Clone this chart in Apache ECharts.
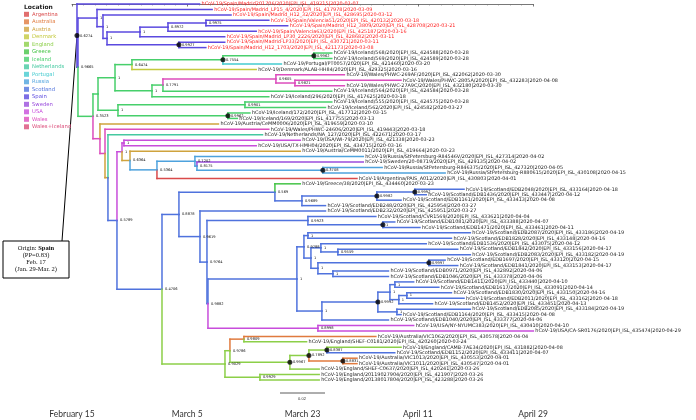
<!DOCTYPE html>
<html><head><meta charset="utf-8">
<script src="https://cdn.jsdelivr.net/npm/echarts@6/dist/echarts.min.js"></script>
<style>html,body{margin:0;padding:0;background:#fff}#c{width:696px;height:420px}</style>
</head><body><div id="c"></div><script>
const locations = ['Argentina','Australia','Austria','Denmark','England','Greece','Iceland','Netherlands','Portugal','Russia','Scotland','Spain','Sweden','USA','Wales','Wales+Iceland'];
const locColors = ['#d94a4a','#e07a3e','#cfa33d','#c4c93e','#8ccf48','#45c447','#47cf6b','#45c9a0','#45cbcf','#4ea2dd','#4f72dd','#5b4adf','#9a4ddc','#c84ddb','#dc4dbd','#db4c79'];
const tickLabels = ['February 15','March 5','March 23','April 11','April 29'];

const leafNames = [
'hCoV-19/Spain/Madrid201706/2020|EPI_ISL_419215|2020-03-07',
'hCoV-19/Spain/Madrid_LP15_4/2020|EPI_ISL_417978|2020-03-09',
'hCoV-19/Spain/Madrid_H12_32/2020|EPI_ISL_428695|2020-03-12',
'hCoV-19/Spain/Valencia51/2020|EPI_ISL_420132|2020-03-18',
'hCoV-19/Spain/Madrid_H12_3809/2020|EPI_ISL_428708|2020-03-21',
'hCoV-19/Spain/Valencia63/2020|EPI_ISL_425187|2020-03-16',
'hCoV-19/Spain/Madrid_LP30_2226/2020|EPI_ISL_428682|2020-03-11',
'hCoV-19/Spain/Madrid-LP33/2020|EPI_ISL_430721|2020-03-11',
'hCoV-19/Spain/Madrid_H12_1703/2020|EPI_ISL_421173|2020-03-08',
'hCoV-19/Iceland/568/2020|EPI_ISL_424588|2020-03-28',
'hCoV-19/Iceland/569/2020|EPI_ISL_424589|2020-03-28',
'hCoV-19/Portugal/PT0057/2020|EPI_ISL_421460|2020-03-20',
'hCoV-19/Denmark/ALAB-HH84/2020|EPI_ISL_429325|2020-03-16',
'hCoV-19/Wales/PHWC-269AF/2020|EPI_ISL_422062|2020-03-30',
'hCoV-19/Wales/PHWC-2805A/2020|EPI_ISL_432283|2020-04-08',
'hCoV-19/Wales/PHWC-27A9C/2020|EPI_ISL_432180|2020-03-30',
'hCoV-19/Iceland/564/2020|EPI_ISL_424584|2020-03-28',
'hCoV-19/Iceland/296/2020|EPI_ISL_417625|2020-03-18',
'hCoV-19/Iceland/555/2020|EPI_ISL_424575|2020-03-28',
'hCoV-19/Iceland/562/2020|EPI_ISL_424582|2020-03-27',
'hCoV-19/Iceland/172/2020|EPI_ISL_417712|2020-03-15',
'hCoV-19/Iceland/169/2020|EPI_ISL_417755|2020-03-13',
'hCoV-19/Austria/CeMM0006/2020|EPI_ISL_419659|2020-03-10',
'hCoV-19/Wales/PHWC-24606/2020|EPI_ISL_419443|2020-03-18',
'hCoV-19/Netherlands/NA_127/2020|EPI_ISL_422671|2020-03-17',
'hCoV-19/USA/WI-79/2020|EPI_ISL_421338|2020-03-23',
'hCoV-19/USA/TX-HMH04/2020|EPI_ISL_434715|2020-03-16',
'hCoV-19/Austria/CeMM0011/2020|EPI_ISL_419664|2020-03-23',
'hCoV-19/Russia/StPetersburg-RII4546V/2020|EPI_ISL_427314|2020-04-02',
'hCoV-19/Sweden/20-08719/2020|EPI_ISL_429135|2020-04-02',
'hCoV-19/Russia/StPetersburg-RII46375/2020|EPI_ISL_427320|2020-04-05',
'hCoV-19/Russia/StPetersburg-RII80615/2020|EPI_ISL_430108|2020-04-15',
'hCoV-19/Argentina/PAIS_A012/2020|EPI_ISL_430803|2020-04-01',
'hCoV-19/Greece/38/2020|EPI_ISL_434460|2020-03-23',
'hCoV-19/Scotland/EDB2048/2020|EPI_ISL_433164|2020-04-18',
'hCoV-19/Scotland/EDB1436/2020|EPI_ISL_433447|2020-04-12',
'hCoV-19/Scotland/EDB1161/2020|EPI_ISL_433413|2020-04-08',
'hCoV-19/Scotland/EDB248/2020|EPI_ISL_425954|2020-03-27',
'hCoV-19/Scotland/EDB232/2020|EPI_ISL_425951|2020-03-27',
'hCoV-19/Scotland/CVR1569/2020|EPI_ISL_433621|2020-04-04',
'hCoV-19/Scotland/EDB1081/2020|EPI_ISL_433388|2020-04-07',
'hCoV-19/Scotland/EDB1471/2020|EPI_ISL_433461|2020-04-11',
'hCoV-19/Scotland/EDB2087/2020|EPI_ISL_433186|2020-04-19',
'hCoV-19/Scotland/EDB1828/2020|EPI_ISL_433148|2020-04-16',
'hCoV-19/Scotland/EDB1536/2020|EPI_ISL_433075|2020-04-12',
'hCoV-19/Scotland/EDB1842/2020|EPI_ISL_433156|2020-04-17',
'hCoV-19/Scotland/EDB2083/2020|EPI_ISL_433182|2020-04-19',
'hCoV-19/Scotland/EDB1697/2020|EPI_ISL_433120|2020-04-15',
'hCoV-19/Scotland/EDB1841/2020|EPI_ISL_433153|2020-04-17',
'hCoV-19/Scotland/EDB0971/2020|EPI_ISL_432892|2020-04-06',
'hCoV-19/Scotland/EDB1046/2020|EPI_ISL_433378|2020-04-06',
'hCoV-19/Scotland/EDB1411/2020|EPI_ISL_433440|2020-04-10',
'hCoV-19/Scotland/EDB1617/2020|EPI_ISL_433091|2020-04-14',
'hCoV-19/Scotland/EDB1830/2020|EPI_ISL_433150|2020-04-16',
'hCoV-19/Scotland/EDB2011/2020|EPI_ISL_433162|2020-04-18',
'hCoV-19/Scotland/EDB1452/2020|EPI_ISL_433451|2020-04-13',
'hCoV-19/Scotland/EDB2085/2020|EPI_ISL_433184|2020-04-19',
'hCoV-19/Scotland/EDB1164/2020|EPI_ISL_433415|2020-04-08',
'hCoV-19/Scotland/EDB1040/2020|EPI_ISL_433377|2020-04-06',
'hCoV-19/USA/NY-NYUMC383/2020|EPI_ISL_430410|2020-04-10',
'hCoV-19/USA/CA-SR0176/2020|EPI_ISL_435474|2020-04-29',
'hCoV-19/Australia/VIC1062/2020|EPI_ISL_430578|2020-04-04',
'hCoV-19/England/SHEF-C0181/2020|EPI_ISL_420260|2020-03-24',
'hCoV-19/England/CAMB-7AE34/2020|EPI_ISL_431882|2020-04-08',
'hCoV-19/Scotland/EDB1152/2020|EPI_ISL_433411|2020-04-07',
'hCoV-19/Australia/VIC1013/2020|EPI_ISL_430553|2020-04-01',
'hCoV-19/Australia/VIC1011/2020|EPI_ISL_430547|2020-04-01',
'hCoV-19/England/SHEF-C0637/2020|EPI_ISL_420241|2020-03-26',
'hCoV-19/England/20119027904/2020|EPI_ISL_421907|2020-03-26',
'hCoV-19/England/20138017804/2020|EPI_ISL_423288|2020-03-26'
];
const leafParent = ['R','N1','N2','V','V','W','X','D','D','I1','I1','P','Q','W1','W2','W2','Wn','Z','I2','I2','I3','I3','G2','G3','G4','Uu','Uu','B','Ru1','Ru2','Ru3','Ru3','B2','Gr','Gu','Gu','Gt','Gs','K2','C1','C2','C2','SBp','SBp','SBr','SBs','SBs','SBt','SBt','SBu','SBu','SBi','SBi','SBk','SBk','SBj','SBf','SBf','SBw','Us','Us','A62','A62','E5','E5','E6','E6','E3','E2','E2'];

// internal nodes: name, parent, time (days after Feb 15), posterior, location
const nodeNames   = ['R','R2','N1','N2','N3','X','W','V','D','G','G1','A1','Q','P','I1','Z','Wn','W1','W2','A3','I2','I3','G2','G3','G4','F','U1','Uu','B','B2','Ru1','Ru2','Ru3','E','K','Gr','Gs','Gt','Gu','K2','K3','C1','C2','Y','SB','SBa','SBp','SBq','SBr','SBs','X2','SBt','SBu','SBw','SBd','SBe','SBi','SBj','SBk','SBf','Us','EN','E1','A62','E3','E4','E5','E6','E2'];
const nodeParent  = ['','R','R2','N1','N2','N3','X','W','N3','R2','G','G1','A1','Q','P','A1','Z','Wn','W1','G1','A3','A3','G','G2','G3','G4','F','U1','U1','B','B2','Ru1','Ru2','F','E','K','Gr','Gs','Gt','K','K2','K3','C1','K3','Y','SB','SBa','SBa','SBq','SBr','SBq','X2','X2','SB','SBw','SBd','SBe','SBe','SBj','SBd','Y','E','EN','E1','E1','E3','E4','E4','EN'];
const nodeDay     = [0.79,0.95,3.97,4.92,5.56,10.79,15.24,21.27,16.98,3.33,4.13,6.83,9.52,23.97,38.41,12.7,14.44,32.38,35.4,7.3,27.46,24.76,4.44,5.24,5.71,7.14,7.94,8.25,9.21,13.49,19.52,19.84,39.84,14.29,16.98,32.22,36.51,48.41,54.44,20.32,21.43,37.46,49.37,21.59,35.71,36.83,37.46,37.94,39.52,42.22,39.05,56.67,41.43,39.68,48.57,50.48,51.27,51.9,53.17,51.59,39.05,24.29,25.08,27.3,34.6,37.62,40.48,43.02,29.84];
const nodeSupport = ['0.6274','0.9665','1','1','1','1','0.8972','0.9975','0.9927','0.3523','','1','0.6474','0.7554','0.9962','1','0.7791','0.9605','0.9821','1','0.9901','0.9962','','','','0.5789','1','1','0.6364','0.5364','0.7202','0.8175','0.3708','0.4706','0.8878','0.569','0.9689','0.9982','0.9992','0.9619','0.9764','0.9923','1','0.9882','1','0.9788','1','1','1','0.9559','1','0.9997','1','1','0.9992','1','1','1','1','1','0.8998','0.9029','0.9786','0.9809','0.9967','0.7892','0.8387','0.8831','0.9929'];
const nodeLoc     = ['Spain','Spain','Spain','Spain','Spain','Spain','Spain','Spain','Spain','Iceland','Iceland','Iceland','Iceland','Iceland','Iceland','Iceland','Iceland','Wales','Wales','Iceland','Iceland','Iceland','Wales','Wales','Austria','Scotland','USA','USA','Austria','Russia','Russia','Russia','Russia','Scotland','Scotland','Scotland','Scotland','Scotland','Scotland','Scotland','Scotland','Scotland','Scotland','Scotland','Scotland','Scotland','Scotland','Scotland','Scotland','Scotland','Scotland','Scotland','Scotland','Scotland','Scotland','Scotland','Scotland','Scotland','Scotland','Scotland','USA','England','England','Australia','England','England','England','Australia','England'];
const nodeDot     = ['R','D','P','I1','I3','Ru3','Gt','Gu','C2','SBt','SBd','E3','E4','E5','E6'];

// ---------- build tree geometry ----------
function dayOf(s){const p=s.split('-').map(Number);return (Date.UTC(p[0],p[1]-1,p[2])-Date.UTC(2020,1,15))/864e5-0.75;}
const N = {};
nodeNames.forEach((n,i)=>{N[n]={x:nodeDay[i],kids:[],loc:locations.indexOf(nodeLoc[i]),sup:nodeSupport[i],par:nodeParent[i]};});
const leaves = leafNames.map((nm,i)=>{const parts=nm.split('|');const country=nm.split('/')[1];
  return {name:nm,x:dayOf(parts[2]),y:i,loc:locations.indexOf(country),par:leafParent[i]};});
leaves.forEach(l=>N[l.par].kids.push(l));
nodeNames.forEach(n=>{if(N[n].par)N[N[n].par].kids.push(N[n]);});
function yOf(n){if(n.y!==undefined)return n.y;const ys=n.kids.map(yOf);n.y=(Math.min(...ys)+Math.max(...ys))/2;return n.y;}
yOf(N['R']);
const segs=[];
function walk(n){n.kids.forEach(c=>{segs.push([n.x,n.y,n.x,c.y,c.loc]);segs.push([n.x,c.y,c.x,c.y,c.loc]);if(c.kids)walk(c);});}
walk(N['R']);
const leafData = leaves.map(l=>[l.x,l.y,l.name,l.loc]);
const supData = nodeNames.filter(n=>N[n].sup).map(n=>[N[n].x,N[n].y,N[n].sup]);
const dotData = nodeDot.map(n=>[N[n].x,N[n].y]);

const chart = echarts.init(document.getElementById('c'),null,{renderer:'canvas'});
const legendSeries = locations.map((l,i)=>({name:l,type:'scatter',data:[],itemStyle:{color:locColors[i]}}));
chart.setOption({
  animation:false,
  grid:{left:72,width:461,top:4,height:376},
  xAxis:{type:'value',min:0,max:73.2,interval:18.3,offset:24,
    axisLine:{lineStyle:{color:'#555',width:0.8}},
    axisTick:{length:2.5,lineStyle:{color:'#555',width:0.8}},
    minorTick:{show:true,splitNumber:10,length:1.5,lineStyle:{color:'#777',width:0.6}},
    splitLine:{show:false},
    axisLabel:{margin:6,fontSize:8.5,color:'#333',fontFamily:'Lato',formatter:v=>tickLabels[Math.round(v/18.3)]||''}},
  yAxis:{type:'value',min:0,max:69,inverse:true,show:false},
  legend:{left:24,top:11.8,orient:'vertical',itemWidth:5,itemHeight:5,itemGap:2.5,icon:'rect',padding:0,selectedMode:false,
    textStyle:{fontSize:5.3,fontFamily:'DejaVu Sans',padding:[0,0,0,-2]},
    data:locations.map((l,i)=>({name:l,textStyle:{color:locColors[i]}}))},
  title:{text:'Location',left:24,top:4,padding:0,textStyle:{fontSize:6,fontWeight:'bold',color:'#222',fontFamily:'DejaVu Sans'}},
  graphic:[],
  series:[
    {type:'custom',clip:false,z:2,data:segs,encode:{x:[0,2],y:[1,3]},
     renderItem:(p,api)=>{const a=api.coord([api.value(0),api.value(1)]),b=api.coord([api.value(2),api.value(3)]);
       return {type:'line',shape:{x1:a[0],y1:a[1],x2:b[0],y2:b[1]},style:{stroke:locColors[api.value(4)],lineWidth:1.5,lineCap:'square'}};}},
    {type:'custom',clip:false,z:3,data:leafData,encode:{x:0,y:1},
     renderItem:(p,api)=>{const a=api.coord([api.value(0),api.value(1)]);const loc=leafData[p.dataIndex][3];
       return {type:'text',style:{x:a[0]+2,y:a[1],text:leafData[p.dataIndex][2],fill:loc===11?'#ff2020':'#1a1a1a',font:'4.9px "DejaVu Sans"',verticalAlign:'middle',align:'left'}};}},
    {type:'custom',clip:false,z:4,data:supData,encode:{x:0,y:1},
     renderItem:(p,api)=>{const a=api.coord([api.value(0),api.value(1)]);
       return {type:'text',style:{x:a[0]+3,y:a[1],text:supData[p.dataIndex][2],fill:'#111',font:'3.6px "DejaVu Sans"',verticalAlign:'middle',align:'left'}};}},
    {type:'scatter',z:5,data:dotData,symbolSize:5,itemStyle:{color:'#000'},silent:true},
    ...legendSeries
  ]
});
const rootPx = chart.convertToPixel({gridIndex:0},[N['R'].x,N['R'].y]);
chart.setOption({graphic:[
  {type:'line',shape:{x1:rootPx[0],y1:rootPx[1],x2:62,y2:241},style:{stroke:'#000',lineWidth:1}},
  {type:'rect',shape:{x:3,y:241,width:66,height:37},style:{fill:'#fff',stroke:'#000',lineWidth:1}},
  {type:'text',style:{x:36,y:248,text:'{a|Origin: }{b|Spain}',align:'center',verticalAlign:'middle',
     rich:{a:{fontFamily:'Liberation Serif',fontSize:6.5,fill:'#111'},b:{fontFamily:'Liberation Serif',fontSize:6.5,fontWeight:'bold',fill:'#111'}}}},
  {type:'text',style:{x:36,y:255,text:'(PP=0.83)',align:'center',verticalAlign:'middle',font:'6.5px "Liberation Serif"',fill:'#111'}},
  {type:'text',style:{x:36,y:262,text:'Feb. 17',align:'center',verticalAlign:'middle',font:'6.5px "Liberation Serif"',fill:'#111'}},
  {type:'text',style:{x:36,y:269,text:'(Jan. 29-Mar. 2)',align:'center',verticalAlign:'middle',font:'6.5px "Liberation Serif"',fill:'#111'}},
  {type:'line',shape:{x1:280,y1:393,x2:325,y2:393},style:{stroke:'#333',lineWidth:0.8}},
  {type:'text',style:{x:302,y:398.5,text:'0.02',align:'center',verticalAlign:'middle',font:'4px "Liberation Sans"',fill:'#333'}}
]});
</script></body></html>
